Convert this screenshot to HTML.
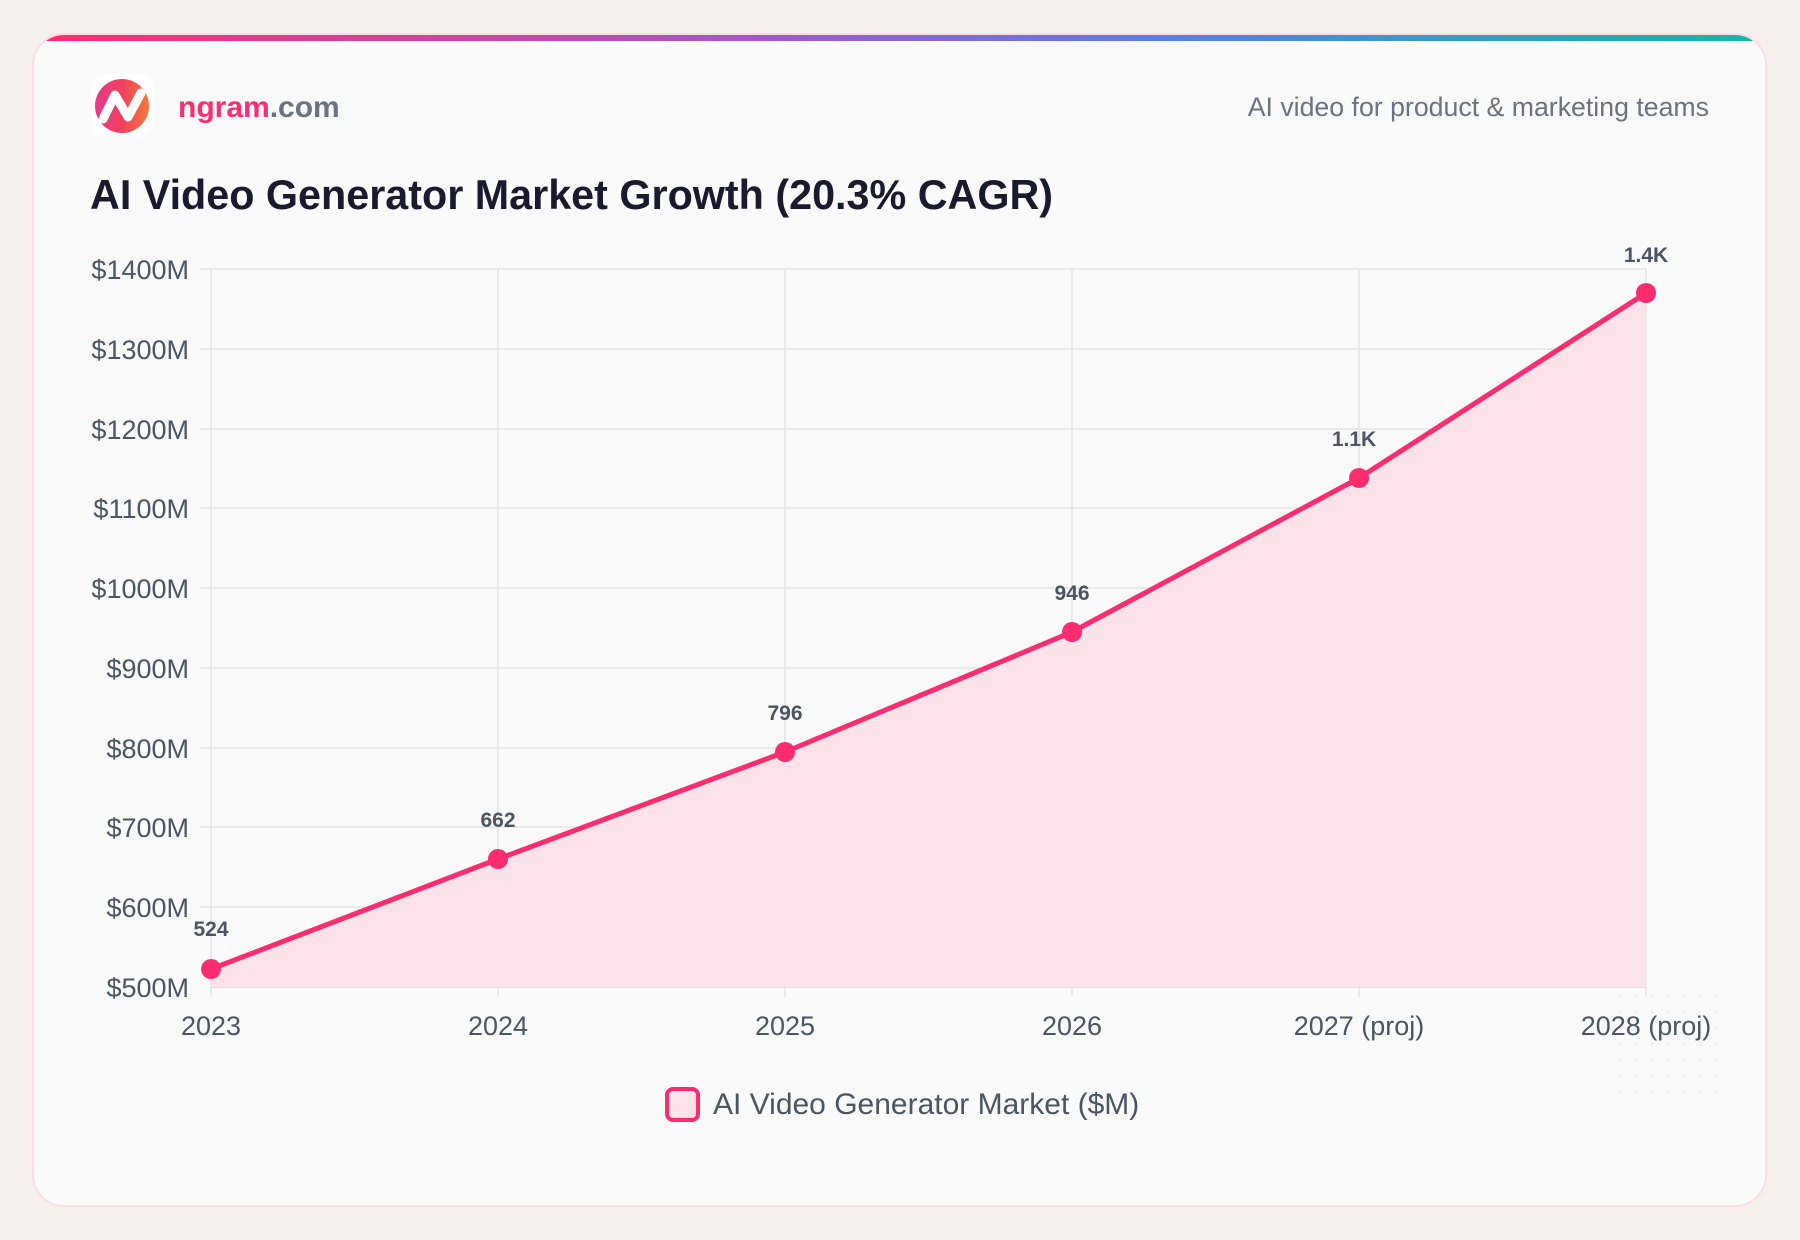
<!DOCTYPE html>
<html><head><meta charset="utf-8"><style>
body{margin:0;width:1800px;height:1240px;background:#f5f0ec;font-family:"Liberation Sans",sans-serif;overflow:hidden;position:relative}
.card{position:absolute;left:32px;top:33px;width:1735px;height:1174px;background:#fafafa;border-radius:32px;border:2px solid #fbdde5;box-sizing:border-box;overflow:hidden}
.bar{position:absolute;left:0;top:0;right:0;height:6px;background:linear-gradient(90deg,#ff2d6f,#a855c8 40%,#5b7fe6 65%,#14b8a6)}
</style></head><body>
<div class="card"><div class="bar"></div></div>
<svg width="1800" height="1240" style="position:absolute;left:0;top:0">
<defs><linearGradient id="lg" x1="0" y1="0" x2="1" y2="0"><stop offset="0" stop-color="#e63a8a"/><stop offset="0.5" stop-color="#f2405f"/><stop offset="1" stop-color="#f47a3c"/></linearGradient>
<pattern id="dots" width="16" height="16" patternUnits="userSpaceOnUse"><circle cx="4" cy="4" r="1.6" fill="#ececec"/></pattern></defs>
<rect x="1612" y="990" width="118" height="110" fill="url(#dots)"/>
<rect x="91" y="74" width="63" height="63" rx="15" fill="#fff"/>
<circle cx="122" cy="106" r="27" fill="url(#lg)"/>
<path d="M103 119 L115 95 L128 117 L141 93" stroke="#fff" stroke-width="9" fill="none" stroke-linejoin="round" stroke-linecap="round"/>
<text x="178" y="117" font-size="30" font-weight="bold" fill="#ff2d6f">ngram<tspan fill="#6b7280">.com</tspan></text>
<text x="1709" y="116" font-size="26.7" fill="#6b7280" text-anchor="end">AI video for product &amp; marketing teams</text>
<text x="90" y="209" font-size="41.3" font-weight="bold" fill="#1a1a2e">AI Video Generator Market Growth (20.3% CAGR)</text>
<g stroke="#e5e5e5" stroke-width="1.5">
<line x1="200" y1="269" x2="1646" y2="269"/><line x1="200" y1="349" x2="1646" y2="349"/><line x1="200" y1="429" x2="1646" y2="429"/><line x1="200" y1="508" x2="1646" y2="508"/><line x1="200" y1="588" x2="1646" y2="588"/><line x1="200" y1="668" x2="1646" y2="668"/><line x1="200" y1="748" x2="1646" y2="748"/><line x1="200" y1="827" x2="1646" y2="827"/><line x1="200" y1="907" x2="1646" y2="907"/>
<line x1="211" y1="269" x2="211" y2="997"/><line x1="498" y1="269" x2="498" y2="997"/><line x1="785" y1="269" x2="785" y2="997"/><line x1="1072" y1="269" x2="1072" y2="997"/><line x1="1359" y1="269" x2="1359" y2="997"/><line x1="1646" y1="269" x2="1646" y2="997"/>
</g>
<line x1="211" y1="987" x2="1646" y2="987" stroke="#d4d4d4" stroke-width="1.5"/>
<path d="M211 969 L498 859 L785 752 L1072 632 L1359 478 L1646 293 L1646 987 L211 987Z" fill="#fbe3e9"/>
<path d="M211 969 L498 859 L785 752 L1072 632 L1359 478 L1646 293" stroke="#ff2d6f" stroke-width="5" fill="none" stroke-linejoin="round"/>
<g fill="#ff2d6f"><circle cx="211" cy="969" r="10"/><circle cx="498" cy="859" r="10"/><circle cx="785" cy="752" r="10"/><circle cx="1072" cy="632" r="10"/><circle cx="1359" cy="478" r="10"/><circle cx="1646" cy="293" r="10"/></g>
<g font-size="21" font-weight="bold" fill="#4b5563" text-anchor="middle">
<text x="211" y="936">524</text><text x="498" y="827">662</text><text x="785" y="720">796</text><text x="1072" y="600">946</text><text x="1354" y="446">1.1K</text><text x="1646" y="262">1.4K</text></g>
<g font-size="27" fill="#4b5563" text-anchor="end">
<text x="189" y="279">$1400M</text><text x="189" y="359">$1300M</text><text x="189" y="439">$1200M</text><text x="189" y="518">$1100M</text><text x="189" y="598">$1000M</text><text x="189" y="678">$900M</text><text x="189" y="758">$800M</text><text x="189" y="837">$700M</text><text x="189" y="917">$600M</text><text x="189" y="997">$500M</text></g>
<g font-size="27" fill="#4b5563" text-anchor="middle">
<text x="211" y="1035">2023</text><text x="498" y="1035">2024</text><text x="785" y="1035">2025</text><text x="1072" y="1035">2026</text><text x="1359" y="1035">2027 (proj)</text><text x="1646" y="1035">2028 (proj)</text></g>
<rect x="667" y="1089" width="31" height="31" rx="6" fill="#fbe3e9" stroke="#ff2d6f" stroke-width="4"/>
<text x="713" y="1114" font-size="30" fill="#4b5563">AI Video Generator Market ($M)</text>
</svg>
</body></html>
